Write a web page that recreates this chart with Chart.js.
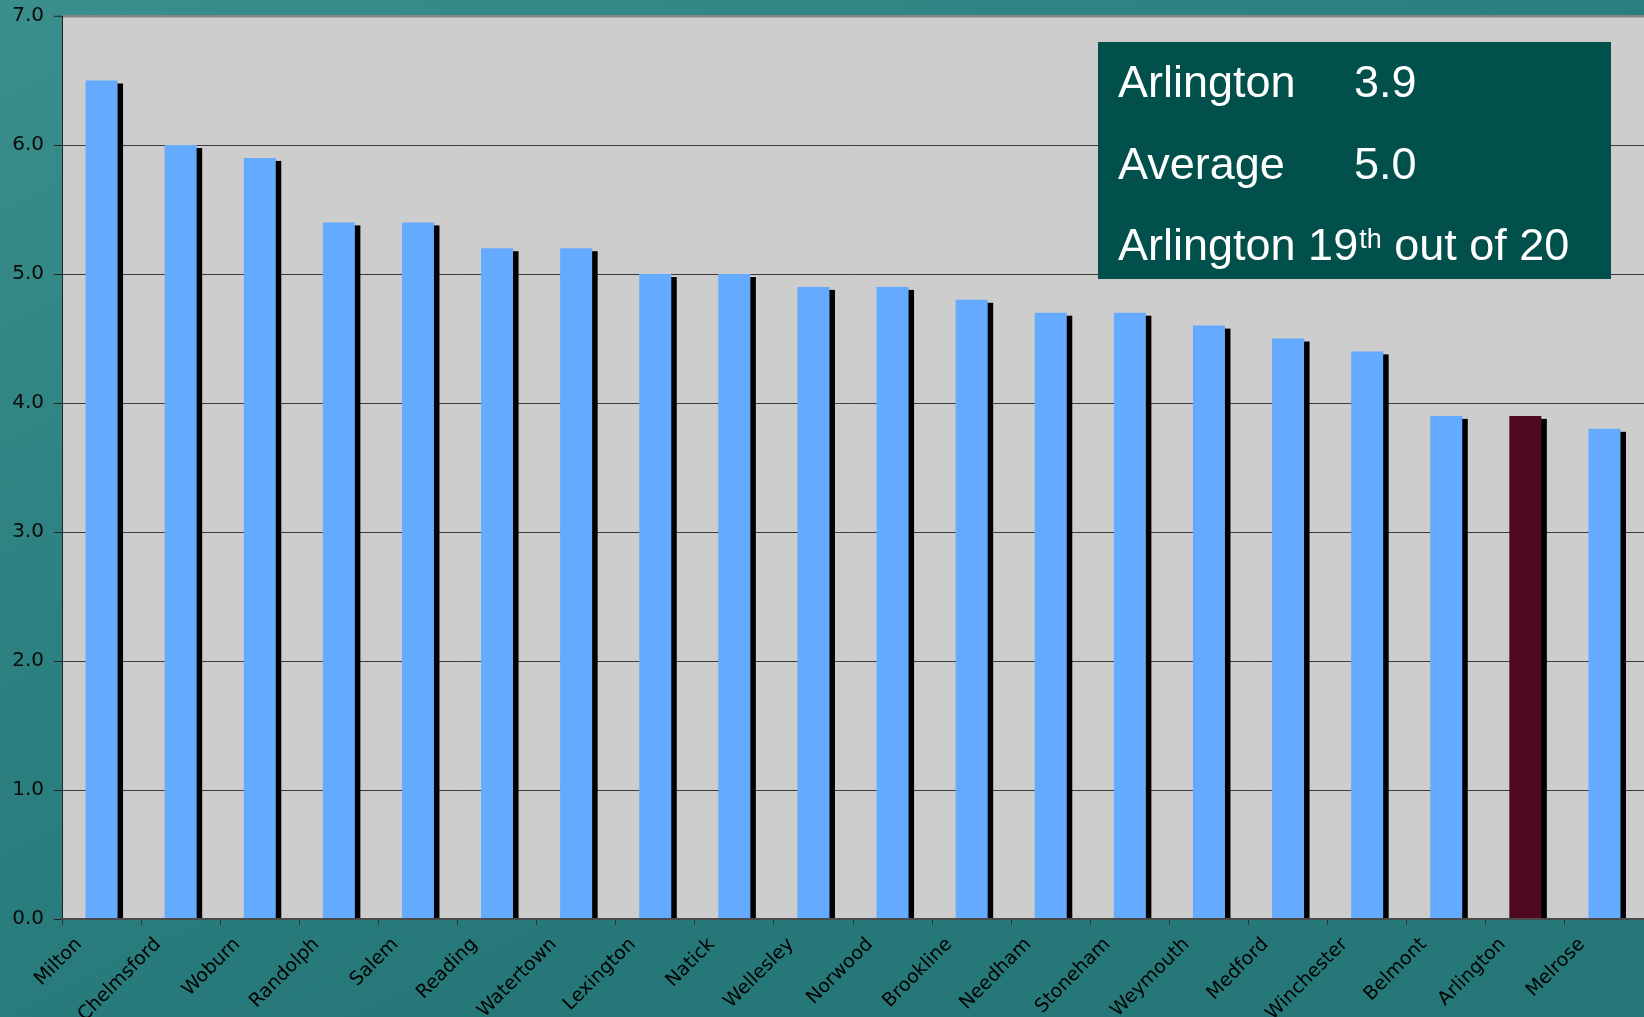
<!DOCTYPE html>
<html>
<head>
<meta charset="utf-8">
<script src="https://cdn.jsdelivr.net/npm/chart.js@4.4.1/dist/chart.umd.min.js"></script>
<style>
  html, body { margin: 0; padding: 0; background: #2c7f7e; overflow: hidden; }
  canvas { display: block; }
</style>
</head>
<body>
<canvas id="myChart" width="1644" height="1017"></canvas>
<script>
const towns = ['Milton', 'Chelmsford', 'Woburn', 'Randolph', 'Salem', 'Reading', 'Watertown',
    'Lexington', 'Natick', 'Wellesley', 'Norwood', 'Brookline', 'Needham', 'Stoneham',
    'Weymouth', 'Medford', 'Winchester', 'Belmont', 'Arlington', 'Melrose'];
const rates = [6.5, 6.0, 5.9, 5.4, 5.4, 5.2, 5.2, 5.0, 5.0, 4.9, 4.9, 4.8, 4.7, 4.7,
    4.6, 4.5, 4.4, 3.9, 3.9, 3.8];
const yTicks = [0, 1, 2, 3, 4, 5, 6, 7];
const highlight = 'Arlington';

// text of the summary box
const boxRows = [
    ['Arlington', '3.9'],
    ['Average', '5.0'],
];
const rankLine = ['Arlington ', '19', 'th', ' out of 20'];

const barColors = towns.map(t => t === highlight ? '#4e0a1f' : '#64aaff');

const background = {
    id: 'background',
    beforeDraw(chart) {
        const { ctx, width, height, chartArea } = chart;
        ctx.save();
        const g = ctx.createLinearGradient(0, 0, width * 0.3, height);
        g.addColorStop(0, '#3a8e8c');
        g.addColorStop(0.5, '#2d8180');
        g.addColorStop(1, '#267878');
        ctx.fillStyle = g;
        ctx.fillRect(0, 0, width, height);
        ctx.fillStyle = '#cdcdcd';
        ctx.fillRect(chartArea.left, chartArea.top, chartArea.right - chartArea.left, chartArea.bottom - chartArea.top);
        ctx.restore();
    }
};

// black drop shadow behind every bar
const barShadow = {
    id: 'barShadow',
    beforeDatasetsDraw(chart) {
        const { ctx, chartArea } = chart;
        const meta = chart.getDatasetMeta(0);
        ctx.save();
        ctx.beginPath();
        ctx.rect(chartArea.left, chartArea.top, chartArea.right - chartArea.left, chartArea.bottom - chartArea.top);
        ctx.clip();
        ctx.fillStyle = '#000';
        meta.data.forEach(bar => {
            const { x, y, base, width } = bar.getProps(['x', 'y', 'base', 'width'], true);
            ctx.fillRect(x - width / 2 + 5.5, y + 3, width, base - y - 3);
        });
        ctx.restore();
    }
};

// rotated category labels, like the original slide
const slantLabels = {
    id: 'slantLabels',
    afterDraw(chart) {
        const { ctx } = chart;
        const xs = chart.scales.x;
        ctx.save();
        ctx.fillStyle = '#000';
        ctx.font = '19px "DejaVu Sans"';
        ctx.textAlign = 'right';
        ctx.textBaseline = 'alphabetic';
        towns.forEach((t, i) => {
            ctx.save();
            ctx.translate(xs.getPixelForValue(i) - 19, xs.top + 26);
            ctx.rotate(-Math.PI / 4);
            ctx.fillText(t, 0, 0);
            ctx.restore();
        });
        ctx.restore();
    }
};

const summaryBox = {
    id: 'summaryBox',
    afterDraw(chart) {
        const { ctx } = chart;
        ctx.save();
        ctx.fillStyle = '#01504c';
        ctx.fillRect(1098, 42, 513, 237);
        ctx.fillStyle = '#fff';
        ctx.textBaseline = 'alphabetic';
        ctx.font = '45px "Liberation Sans", Arial';
        boxRows.forEach((row, i) => {
            const yb = 97 + i * 81.5;
            ctx.fillText(row[0], 1118, yb);
            ctx.fillText(row[1], 1354, yb);
        });
        let x = 1118;
        const yb = 260;
        ctx.fillText(rankLine[0], x, yb);
        x += ctx.measureText(rankLine[0]).width;
        ctx.fillText(rankLine[1], x, yb);
        x += ctx.measureText(rankLine[1]).width + 1;
        ctx.font = '27px "Liberation Sans", Arial';
        ctx.fillText(rankLine[2], x, yb - 12);
        x += ctx.measureText(rankLine[2]).width;
        ctx.font = '45px "Liberation Sans", Arial';
        ctx.fillText(rankLine[3], x, yb);
        ctx.restore();
    }
};

const ctx = document.getElementById('myChart').getContext('2d');

const myChart = new Chart(ctx, {
    type: 'bar',
    data: {
        labels: towns,
        datasets: [{
            data: rates,
            backgroundColor: barColors,
            borderWidth: 0,
            categoryPercentage: 1.0,
            barPercentage: 0.405,
        }],
    },
    plugins: [background, barShadow, slantLabels, summaryBox],
    options: {
        responsive: false,
        devicePixelRatio: 1,
        animation: false,
        layout: {
            padding: { top: 16, right: 0, left: 0, bottom: 0 },
        },
        plugins: {
            legend: { display: false },
            tooltip: { enabled: false },
        },
        scales: {
            x: {
                type: 'category',
                offset: true,
                grid: {
                    offset: true,
                    drawOnChartArea: false,
                    drawTicks: true,
                    tickLength: 6,
                    color: '#333',
                },
                border: { display: true, color: '#4a4a4a', width: 2, z: 1 },
                ticks: { display: false },
                afterFit(scale) { scale.height = 98; },
            },
            y: {
                min: 0,
                max: 7,
                afterBuildTicks(scale) {
                    scale.ticks = yTicks.map(v => ({ value: v }));
                },
                grid: {
                    color: c => c.tick && c.tick.value === 7 ? '#858585' : '#3c3c3c',
                    lineWidth: c => c.tick && c.tick.value === 7 ? 2.5 : 1,
                    tickLength: 8,
                    tickColor: '#222',
                    tickWidth: 1,
                },
                border: { display: true, color: '#222', width: 1 },
                ticks: {
                    color: '#0a0a0a',
                    padding: 10,
                    font: { family: '"DejaVu Sans"', size: 20 },
                    callback: v => v.toFixed(1),
                },
                afterFit(scale) {
                    scale.width = 62;
                    scale.paddingTop = 0;
                    scale.paddingBottom = 0;
                },
            },
        },
    },
});
</script>
</body>
</html>
